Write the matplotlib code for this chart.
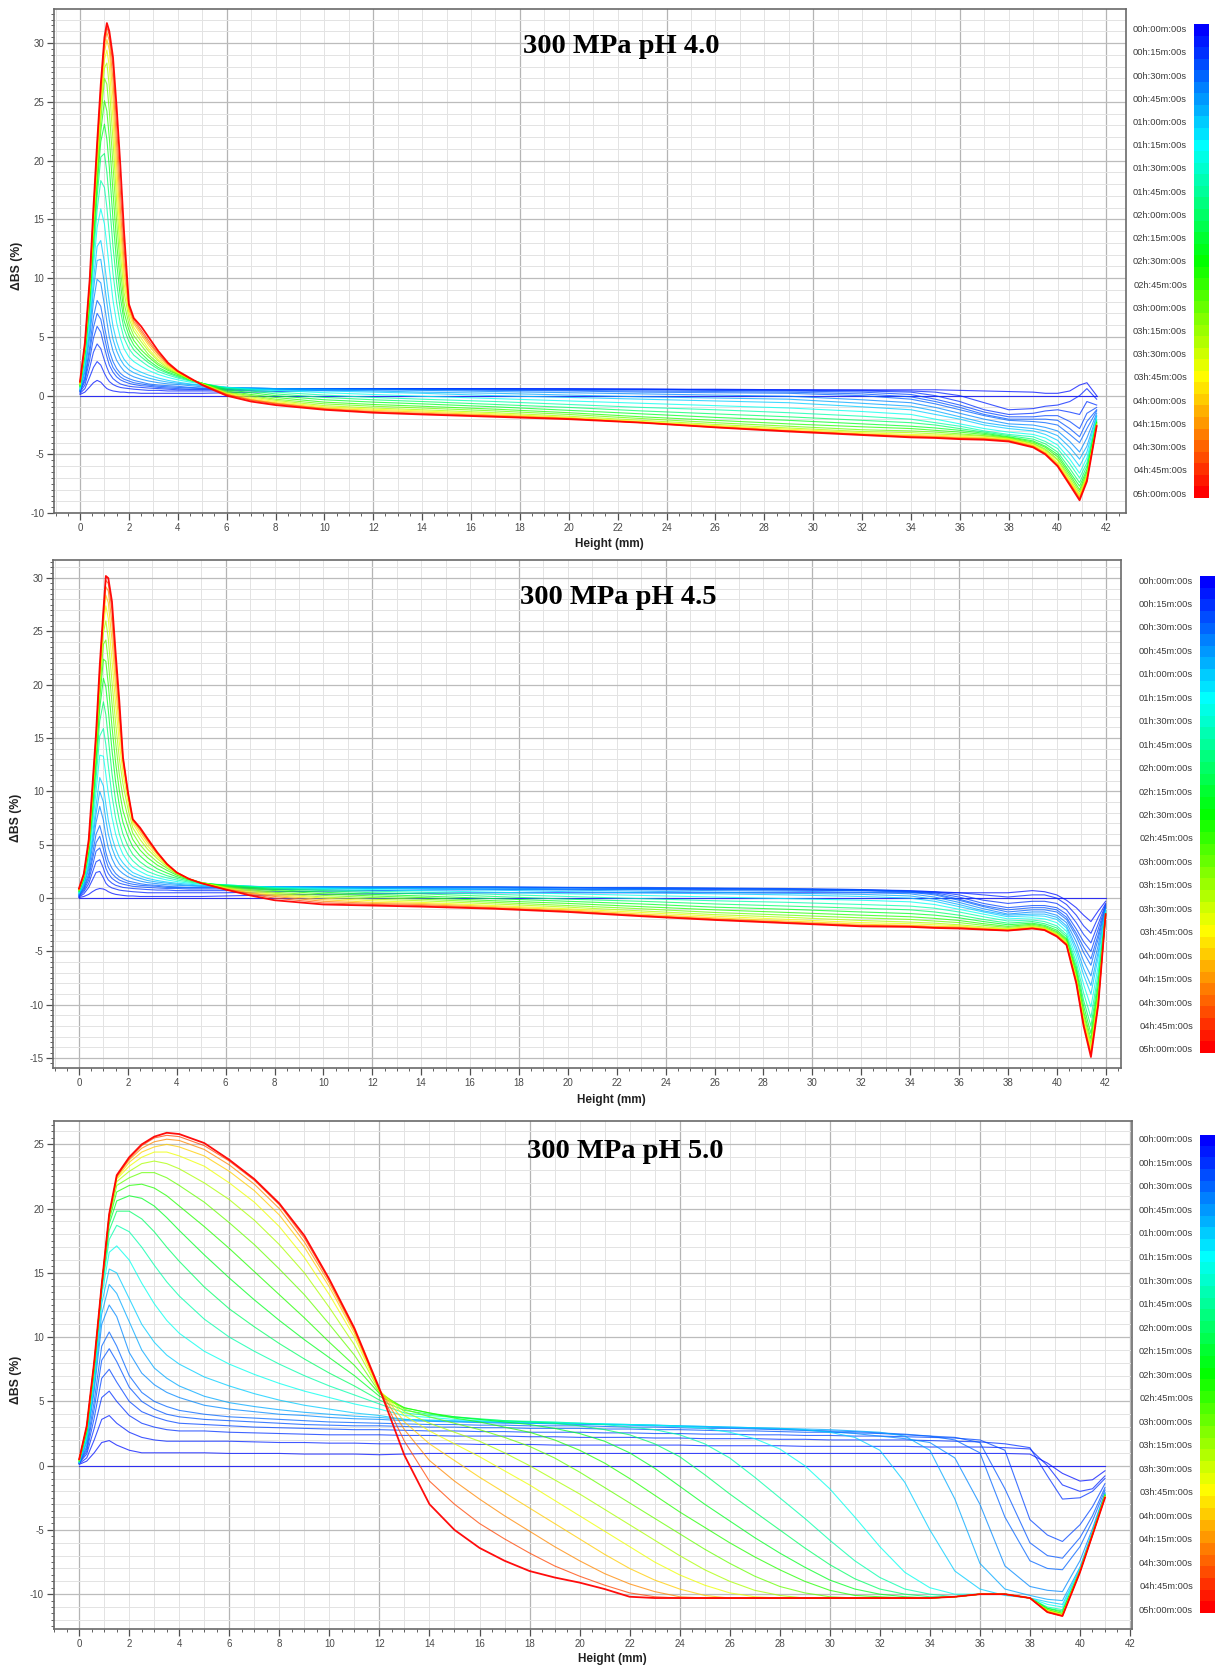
import matplotlib

matplotlib.use('Agg')

import matplotlib.pyplot as plt
import numpy as np
from matplotlib.colors import LinearSegmentedColormap
from matplotlib.ticker import MultipleLocator, FormatStrFormatter

plt.rcParams['font.family'] = ['Liberation Sans', 'DejaVu Sans']
plt.rcParams['axes.unicode_minus'] = False

# scan times (min) of the drawn profiles, same for all three samples
TIMES = [0, 5, 10, 15, 20, 25, 30, 40, 50, 60, 80, 100, 120, 140, 160, 180, 200, 220, 240, 260, 280, 300]

TIME_LABELS = ['00h:00m:00s', '00h:15m:00s', '00h:30m:00s', '00h:45m:00s', '01h:00m:00s',
               '01h:15m:00s', '01h:30m:00s', '01h:45m:00s', '02h:00m:00s', '02h:15m:00s',
               '02h:30m:00s', '02h:45m:00s', '03h:00m:00s', '03h:15m:00s', '03h:30m:00s',
               '03h:45m:00s', '04h:00m:00s', '04h:15m:00s', '04h:30m:00s', '04h:45m:00s',
               '05h:00m:00s']
LABEL_MINUTES = [0, 15, 30, 45, 60, 75, 90, 105, 120, 135, 150, 165, 180, 195, 210, 225, 240, 255, 270, 285, 300]

# ---- pH 4.0 : height (mm) and delta-BS (%) profiles ----
H_PH40 = [0, 0.2, 0.4, 0.55, 0.7, 0.85, 1.0, 1.1, 1.2, 1.35, 1.5, 1.65, 1.8, 2.0, 2.2, 2.5, 2.8, 3.2, 3.6,
          4.0, 4.5, 5.0, 6, 7, 8, 10, 12, 14, 17, 20, 23, 26, 29, 32, 34, 35, 36, 37, 38, 39, 39.5, 40,
          40.5, 40.9, 41.2, 41.6]
BS_PH40 = [
    [0, 0, 0, 0, 0, 0, 0, 0, 0, 0, 0, 0, 0, 0, 0, 0, 0, 0, 0, 0, 0, 0, 0, 0, 0, 0, 0, 0, 0, 0, 0, 0, 0,
     0, 0, 0, 0, 0, 0, 0, 0, 0, 0, 0, 0, 0],
    [0.1, 0.3, 0.75, 1.1, 1.3, 1.15, 0.8, 0.6, 0.5, 0.4, 0.35, 0.3, 0.3, 0.25, 0.25, 0.2, 0.2, 0.2, 0.2, 0.2,
     0.2, 0.2, 0.25, 0.3, 0.35, 0.45, 0.5, 0.55, 0.55, 0.55, 0.55, 0.5, 0.5, 0.5, 0.5, 0.5, 0.45, 0.4, 0.35,
     0.3, 0.2, 0.2, 0.4, 0.9, 1.1, 0.0],
    [0.2, 0.6, 1.6, 2.4, 2.9, 2.6, 1.9, 1.5, 1.2, 0.95, 0.8, 0.7, 0.65, 0.6, 0.55, 0.5, 0.45, 0.45, 0.4, 0.4,
     0.4, 0.4, 0.4, 0.45, 0.5, 0.55, 0.6, 0.6, 0.6, 0.6, 0.55, 0.55, 0.5, 0.45, 0.4, 0.3, 0.0, -0.6, -1.2,
     -1.1, -0.9, -0.8, -0.5, 0.0, 0.6, -0.3],
    [0.3, 0.9, 2.4, 3.7, 4.4, 4.0, 3.0, 2.4, 1.9, 1.45, 1.2, 1.0, 0.9, 0.8, 0.75, 0.7, 0.65, 0.6, 0.55, 0.5,
     0.5, 0.5, 0.5, 0.55, 0.6, 0.6, 0.6, 0.6, 0.6, 0.55, 0.55, 0.5, 0.45, 0.4, 0.3, 0.0, -0.5, -1.2, -1.6,
     -1.5, -1.3, -1.2, -1.4, -1.6, -0.5, -0.8],
    [0.35, 1.2, 3.1, 4.9, 5.9, 5.4, 4.1, 3.3, 2.6, 2.0, 1.6, 1.35, 1.2, 1.05, 0.95, 0.85, 0.8, 0.7, 0.65, 0.6,
     0.55, 0.55, 0.55, 0.6, 0.6, 0.6, 0.6, 0.6, 0.55, 0.55, 0.5, 0.45, 0.4, 0.3, 0.1, -0.3, -0.8, -1.4, -1.8,
     -1.8, -1.7, -1.7, -2.2, -2.8, -1.5, -1.0],
    [0.4, 1.4, 3.7, 5.8, 7.0, 6.5, 5.0, 4.0, 3.2, 2.4, 1.95, 1.6, 1.4, 1.25, 1.1, 1.0, 0.9, 0.8, 0.75, 0.7,
     0.65, 0.6, 0.6, 0.6, 0.6, 0.6, 0.6, 0.55, 0.5, 0.45, 0.4, 0.35, 0.3, 0.15, -0.1, -0.5, -1.0, -1.6, -2.0,
     -2.0, -2.0, -2.1, -2.8, -3.5, -2.2, -1.2],
    [0.4, 1.6, 4.2, 6.7, 8.1, 7.6, 5.9, 4.8, 3.8, 2.9, 2.3, 1.9, 1.65, 1.45, 1.3, 1.15, 1.0, 0.9, 0.85, 0.8,
     0.7, 0.65, 0.65, 0.65, 0.6, 0.6, 0.55, 0.5, 0.45, 0.4, 0.3, 0.25, 0.2, 0.0, -0.3, -0.7, -1.2, -1.7,
     -2.1, -2.2, -2.3, -2.5, -3.3, -4.0, -2.8, -1.3],
    [0.45, 2.0, 5.0, 8.0, 9.9, 9.6, 7.7, 6.3, 5.0, 3.8, 3.0, 2.5, 2.1, 1.8, 1.6, 1.4, 1.25, 1.1, 1.0, 0.95,
     0.85, 0.75, 0.7, 0.65, 0.6, 0.55, 0.5, 0.45, 0.35, 0.25, 0.15, 0.05, -0.05, -0.35, -0.6, -1.0, -1.5,
     -2.0, -2.4, -2.5, -2.7, -3.0, -3.9, -4.8, -3.6, -1.5],
    [0.5, 2.3, 5.6, 9.0, 11.5, 11.6, 9.5, 7.9, 6.4, 4.8, 3.8, 3.1, 2.6, 2.2, 1.95, 1.7, 1.5, 1.3, 1.15, 1.05,
     0.95, 0.85, 0.7, 0.65, 0.6, 0.5, 0.4, 0.3, 0.2, 0.05, -0.1, -0.2, -0.3, -0.65, -0.9, -1.3, -1.8, -2.3,
     -2.6, -2.8, -3.0, -3.4, -4.4, -5.4, -4.3, -1.7],
    [0.55, 2.6, 6.1, 9.8, 12.7, 13.2, 11.3, 9.6, 7.9, 5.9, 4.6, 3.7, 3.1, 2.6, 2.3, 2.0, 1.75, 1.5, 1.3,
     1.15, 1.0, 0.9, 0.7, 0.6, 0.5, 0.4, 0.3, 0.2, 0.0, -0.15, -0.3, -0.45, -0.6, -0.95, -1.2, -1.6, -2.0,
     -2.5, -2.8, -3.0, -3.3, -3.8, -4.9, -6.0, -4.8, -1.8],
    [0.6, 3.0, 6.8, 10.9, 14.3, 15.9, 14.6, 12.8, 10.8, 8.1, 6.2, 4.9, 4.0, 3.3, 2.9, 2.5, 2.15, 1.8, 1.55,
     1.35, 1.15, 1.0, 0.7, 0.55, 0.45, 0.25, 0.1, -0.05, -0.25, -0.45, -0.65, -0.85, -1.05, -1.35, -1.6,
     -2.0, -2.4, -2.8, -3.1, -3.3, -3.6, -4.2, -5.4, -6.6, -5.3, -2.0],
    [0.7, 3.3, 7.4, 11.8, 15.8, 18.3, 17.7, 16.0, 13.7, 10.4, 7.9, 6.1, 4.9, 4.0, 3.45, 2.95, 2.5, 2.05,
     1.75, 1.5, 1.25, 1.05, 0.65, 0.5, 0.3, 0.05, -0.15, -0.3, -0.5, -0.75, -1.0, -1.2, -1.45, -1.75, -2.0,
     -2.3, -2.6, -3.0, -3.3, -3.5, -3.9, -4.5, -5.8, -7.0, -5.7, -2.1],
    [0.75, 3.5, 7.8, 12.6, 16.9, 20.3, 20.6, 19.0, 16.6, 12.7, 9.6, 7.3, 5.7, 4.6, 3.9, 3.3, 2.8, 2.25, 1.9,
     1.6, 1.3, 1.05, 0.6, 0.4, 0.15, -0.15, -0.35, -0.5, -0.75, -1.0, -1.3, -1.55, -1.8, -2.1, -2.3, -2.5,
     -2.8, -3.1, -3.4, -3.7, -4.1, -4.8, -6.2, -7.4, -6.0, -2.2],
    [0.8, 3.7, 8.2, 13.3, 17.8, 21.6, 23.1, 21.8, 19.4, 15.0, 11.3, 8.4, 6.4, 5.1, 4.3, 3.6, 3.0, 2.4, 2.0,
     1.7, 1.35, 1.05, 0.5, 0.25, 0.0, -0.35, -0.55, -0.7, -0.95, -1.25, -1.55, -1.85, -2.1, -2.4, -2.6,
     -2.75, -2.95, -3.2, -3.5, -3.85, -4.3, -5.0, -6.5, -7.7, -6.3, -2.3],
    [0.85, 3.8, 8.5, 13.8, 18.5, 22.5, 25.1, 24.2, 21.9, 17.3, 13.0, 9.6, 7.1, 5.6, 4.7, 3.9, 3.3, 2.6, 2.15,
     1.8, 1.4, 1.05, 0.4, 0.1, -0.15, -0.55, -0.75, -0.9, -1.15, -1.45, -1.8, -2.1, -2.4, -2.65, -2.8,
     -2.95, -3.1, -3.3, -3.55, -3.95, -4.4, -5.2, -6.7, -8.0, -6.5, -2.3],
    [0.9, 3.9, 8.8, 14.2, 19.1, 23.4, 27.0, 26.5, 24.2, 19.6, 14.8, 10.8, 7.9, 6.1, 5.1, 4.3, 3.5, 2.75,
     2.25, 1.85, 1.4, 1.05, 0.3, 0.0, -0.3, -0.7, -0.9, -1.05, -1.3, -1.6, -1.95, -2.3, -2.6, -2.9, -3.0,
     -3.1, -3.25, -3.4, -3.6, -4.05, -4.55, -5.4, -6.9, -8.2, -6.7, -2.4],
    [0.95, 4.0, 9.0, 14.5, 19.6, 24.2, 27.9, 28.3, 26.3, 21.7, 16.5, 12.1, 8.8, 6.6, 5.5, 4.6, 3.8, 2.95,
     2.35, 1.9, 1.4, 1.0, 0.25, -0.1, -0.4, -0.85, -1.05, -1.2, -1.45, -1.75, -2.1, -2.45, -2.75, -3.05,
     -3.15, -3.25, -3.35, -3.45, -3.65, -4.1, -4.65, -5.5, -7.1, -8.4, -6.8, -2.4],
    [1.0, 4.1, 9.2, 14.8, 20.0, 24.8, 28.6, 29.4, 28.0, 23.5, 18.0, 13.3, 9.6, 7.0, 5.8, 4.9, 4.0, 3.1,
     2.45, 1.95, 1.4, 1.0, 0.2, -0.2, -0.5, -0.95, -1.15, -1.3, -1.55, -1.85, -2.2, -2.55, -2.85, -3.15,
     -3.3, -3.35, -3.45, -3.55, -3.7, -4.2, -4.75, -5.7, -7.2, -8.5, -6.9, -2.5],
    [1.05, 4.2, 9.4, 15.1, 20.4, 25.3, 29.2, 30.3, 29.4, 25.3, 19.6, 14.5, 10.5, 7.3, 6.1, 5.2, 4.3, 3.3,
     2.55, 2.0, 1.4, 0.95, 0.15, -0.3, -0.6, -1.05, -1.25, -1.4, -1.65, -1.9, -2.25, -2.6, -2.95, -3.25,
     -3.4, -3.45, -3.55, -3.6, -3.75, -4.25, -4.85, -5.8, -7.35, -8.6, -7.0, -2.5],
    [1.1, 4.3, 9.6, 15.4, 20.8, 25.8, 29.8, 30.9, 30.2, 26.8, 21.3, 15.9, 11.5, 7.5, 6.3, 5.4, 4.5, 3.5,
     2.65, 2.05, 1.45, 0.95, 0.1, -0.35, -0.65, -1.1, -1.35, -1.5, -1.7, -1.95, -2.3, -2.65, -3.0, -3.3,
     -3.45, -3.5, -3.6, -3.65, -3.8, -4.3, -4.9, -5.9, -7.45, -8.7, -7.1, -2.5],
    [1.15, 4.4, 9.8, 15.7, 21.2, 26.2, 30.2, 31.3, 30.7, 28.0, 22.9, 17.5, 12.6, 7.7, 6.5, 5.6, 4.7, 3.6,
     2.7, 2.05, 1.45, 0.95, 0.1, -0.4, -0.7, -1.15, -1.4, -1.55, -1.75, -1.95, -2.3, -2.7, -3.0, -3.3,
     -3.5, -3.55, -3.65, -3.7, -3.85, -4.35, -4.95, -5.95, -7.5, -8.8, -7.2, -2.55],
    [1.2, 4.5, 10.0, 16.0, 21.5, 26.5, 30.5, 31.7, 31.0, 28.8, 24.5, 19.6, 14.0, 7.8, 6.6, 5.9, 5.0, 3.8,
     2.8, 2.1, 1.5, 0.9, 0.0, -0.5, -0.8, -1.2, -1.45, -1.6, -1.8, -2.0, -2.3, -2.7, -3.05, -3.35, -3.55,
     -3.6, -3.7, -3.75, -3.9, -4.4, -5.0, -6.0, -7.6, -8.9, -7.3, -2.6],
]

# ---- pH 4.5 ----
H_PH45 = [0, 0.2, 0.4, 0.55, 0.7, 0.85, 1.0, 1.1, 1.2, 1.35, 1.5, 1.65, 1.8, 2.0, 2.2, 2.5, 2.8, 3.2, 3.6,
          4.0, 4.5, 5.0, 6, 7, 8, 10, 12, 14, 17, 20, 23, 26, 29, 32, 34, 35, 36, 37, 38, 39, 39.5, 40,
          40.4, 40.8, 41.1, 41.4, 41.7, 42.0]
BS_PH45 = [
    [0, 0, 0, 0, 0, 0, 0, 0, 0, 0, 0, 0, 0, 0, 0, 0, 0, 0, 0, 0, 0, 0, 0, 0, 0, 0, 0, 0, 0, 0, 0, 0, 0,
     0, 0, 0, 0, 0, 0, 0, 0, 0, 0, 0, 0, 0, 0, 0],
    [0.05, 0.15, 0.35, 0.6, 0.8, 0.9, 0.85, 0.75, 0.6, 0.45, 0.35, 0.3, 0.25, 0.2, 0.2, 0.15, 0.15, 0.15,
     0.15, 0.15, 0.15, 0.15, 0.2, 0.25, 0.3, 0.35, 0.4, 0.45, 0.5, 0.5, 0.5, 0.5, 0.5, 0.5, 0.5, 0.5, 0.5,
     0.5, 0.5, 0.7, 0.6, 0.3, -0.2, -0.9, -1.6, -2.2, -1.2, -0.3],
    [0.1, 0.4, 1.0, 1.7, 2.4, 2.5, 1.9, 1.4, 1.15, 0.95, 0.85, 0.75, 0.7, 0.65, 0.6, 0.55, 0.5, 0.5, 0.5,
     0.5, 0.5, 0.5, 0.5, 0.55, 0.6, 0.65, 0.7, 0.75, 0.8, 0.8, 0.8, 0.8, 0.75, 0.7, 0.65, 0.6, 0.5, 0.3,
     0.1, 0.3, 0.3, 0.0, -0.6, -1.6, -2.6, -3.3, -1.8, -0.5],
    [0.15, 0.6, 1.35, 2.4, 3.4, 3.6, 2.8, 2.1, 1.7, 1.4, 1.2, 1.1, 1.0, 0.95, 0.9, 0.85, 0.8, 0.75, 0.75,
     0.7, 0.7, 0.7, 0.7, 0.75, 0.8, 0.85, 0.9, 0.95, 0.95, 0.95, 0.9, 0.9, 0.85, 0.8, 0.7, 0.6, 0.3, -0.2,
     -0.5, -0.3, -0.3, -0.5, -1.1, -2.3, -3.4, -4.2, -2.4, -0.6],
    [0.2, 0.75, 1.7, 3.0, 4.4, 4.7, 3.7, 2.8, 2.3, 1.85, 1.6, 1.4, 1.3, 1.2, 1.1, 1.05, 1.0, 0.95, 0.9, 0.9,
     0.85, 0.85, 0.85, 0.9, 0.95, 1.0, 1.0, 1.05, 1.05, 1.0, 1.0, 0.95, 0.9, 0.8, 0.65, 0.5, 0.1, -0.5,
     -0.9, -0.7, -0.7, -0.9, -1.5, -2.9, -4.1, -5.0, -2.9, -0.7],
    [0.25, 0.9, 2.0, 3.6, 5.2, 5.8, 4.6, 3.6, 2.9, 2.3, 1.95, 1.7, 1.55, 1.4, 1.3, 1.2, 1.15, 1.1, 1.0, 1.0,
     0.95, 0.95, 0.95, 1.0, 1.0, 1.05, 1.05, 1.05, 1.05, 1.0, 0.95, 0.9, 0.85, 0.75, 0.6, 0.4, -0.1, -0.7,
     -1.1, -0.9, -0.9, -1.1, -1.8, -3.3, -4.6, -5.7, -3.4, -0.8],
    [0.3, 1.0, 2.3, 4.1, 6.0, 6.8, 5.5, 4.3, 3.5, 2.8, 2.3, 2.0, 1.8, 1.6, 1.5, 1.35, 1.25, 1.2, 1.1, 1.05,
     1.0, 1.0, 1.0, 1.05, 1.05, 1.05, 1.05, 1.05, 1.0, 0.95, 0.9, 0.85, 0.8, 0.7, 0.55, 0.3, -0.2, -0.8,
     -1.3, -1.1, -1.1, -1.3, -2.0, -3.6, -5.1, -6.3, -3.8, -0.9],
    [0.35, 1.2, 2.7, 4.8, 7.1, 8.6, 7.3, 5.8, 4.7, 3.7, 3.0, 2.6, 2.3, 2.0, 1.8, 1.6, 1.45, 1.35, 1.25, 1.2,
     1.15, 1.1, 1.1, 1.1, 1.05, 1.05, 1.0, 1.0, 0.95, 0.85, 0.8, 0.7, 0.65, 0.55, 0.4, 0.1, -0.4, -1.0,
     -1.5, -1.3, -1.3, -1.6, -2.3, -4.1, -5.9, -7.3, -4.4, -1.0],
    [0.4, 1.3, 3.0, 5.3, 7.9, 10.0, 9.0, 7.3, 6.0, 4.7, 3.8, 3.2, 2.8, 2.4, 2.1, 1.85, 1.65, 1.5, 1.4, 1.3,
     1.2, 1.15, 1.15, 1.1, 1.05, 1.0, 0.95, 0.9, 0.85, 0.75, 0.65, 0.55, 0.45, 0.35, 0.2, -0.1, -0.6, -1.2,
     -1.6, -1.5, -1.5, -1.8, -2.6, -4.6, -6.6, -8.2, -5.0, -1.1],
    [0.45, 1.4, 3.3, 5.8, 8.7, 11.3, 10.5, 8.8, 7.3, 5.7, 4.6, 3.8, 3.3, 2.8, 2.4, 2.1, 1.85, 1.65, 1.5,
     1.4, 1.3, 1.2, 1.2, 1.1, 1.05, 0.95, 0.9, 0.85, 0.75, 0.6, 0.5, 0.4, 0.3, 0.15, 0.0, -0.3, -0.8, -1.3,
     -1.75, -1.65, -1.7, -2.0, -2.8, -5.0, -7.2, -9.0, -5.5, -1.2],
    [0.5, 1.6, 3.7, 6.6, 10.0, 13.4, 13.3, 11.6, 9.8, 7.6, 6.0, 4.9, 4.1, 3.4, 2.9, 2.5, 2.15, 1.9, 1.7,
     1.55, 1.4, 1.3, 1.25, 1.1, 1.0, 0.9, 0.8, 0.7, 0.55, 0.4, 0.25, 0.1, -0.05, -0.2, -0.35, -0.6, -1.05,
     -1.5, -1.95, -1.85, -1.95, -2.3, -3.1, -5.5, -8.1, -10.2, -6.3, -1.3],
    [0.55, 1.7, 4.0, 7.3, 11.2, 15.2, 15.9, 14.4, 12.4, 9.6, 7.5, 6.0, 5.0, 4.1, 3.5, 2.9, 2.5, 2.15, 1.9,
     1.7, 1.5, 1.35, 1.25, 1.1, 0.95, 0.8, 0.65, 0.55, 0.35, 0.15, -0.05, -0.25, -0.4, -0.6, -0.75, -0.95,
     -1.3, -1.75, -2.15, -2.05, -2.2, -2.6, -3.4, -6.0, -8.9, -11.2, -7.0, -1.4],
    [0.6, 1.8, 4.3, 7.9, 12.2, 16.6, 18.4, 17.2, 15.0, 11.7, 9.1, 7.3, 6.0, 4.9, 4.1, 3.4, 2.9, 2.45, 2.1,
     1.85, 1.6, 1.4, 1.2, 1.05, 0.9, 0.7, 0.5, 0.4, 0.15, -0.1, -0.3, -0.55, -0.75, -0.95, -1.1, -1.3, -1.6,
     -2.0, -2.35, -2.2, -2.4, -2.8, -3.6, -6.4, -9.6, -12.0, -7.6, -1.5],
    [0.65, 1.9, 4.5, 8.4, 13.0, 17.8, 20.6, 19.8, 17.6, 13.9, 10.9, 8.7, 7.1, 5.8, 4.8, 3.95, 3.35, 2.75,
     2.35, 2.0, 1.7, 1.45, 1.15, 1.0, 0.8, 0.55, 0.35, 0.2, -0.05, -0.3, -0.55, -0.85, -1.05, -1.3, -1.45,
     -1.6, -1.85, -2.2, -2.5, -2.35, -2.55, -3.0, -3.8, -6.7, -10.1, -12.7, -8.1, -1.5],
    [0.7, 1.95, 4.7, 8.8, 13.6, 18.7, 22.4, 22.2, 20.0, 16.1, 12.7, 10.1, 8.2, 6.7, 5.5, 4.5, 3.8, 3.1, 2.6,
     2.15, 1.75, 1.45, 1.1, 0.9, 0.7, 0.4, 0.2, 0.05, -0.25, -0.5, -0.8, -1.1, -1.35, -1.6, -1.75, -1.9,
     -2.1, -2.4, -2.65, -2.45, -2.65, -3.15, -3.9, -7.0, -10.6, -13.2, -8.5, -1.6],
    [0.75, 2.0, 4.8, 9.1, 14.0, 19.4, 23.8, 24.2, 22.2, 18.3, 14.6, 11.6, 9.5, 7.6, 6.1, 5.0, 4.2, 3.4, 2.8,
     2.25, 1.8, 1.45, 1.05, 0.8, 0.55, 0.25, 0.05, -0.1, -0.4, -0.7, -1.0, -1.35, -1.6, -1.85, -2.0, -2.15,
     -2.3, -2.55, -2.75, -2.55, -2.75, -3.25, -4.0, -7.2, -10.9, -13.6, -8.8, -1.6],
    [0.75, 2.05, 4.9, 9.4, 14.3, 20.0, 24.9, 26.0, 24.3, 20.3, 16.4, 13.1, 10.7, 8.4, 6.6, 5.5, 4.6, 3.7,
     2.95, 2.3, 1.8, 1.45, 1.0, 0.7, 0.45, 0.1, -0.1, -0.25, -0.55, -0.85, -1.2, -1.55, -1.8, -2.1, -2.25,
     -2.35, -2.5, -2.7, -2.85, -2.65, -2.8, -3.35, -4.1, -7.4, -11.2, -13.9, -9.1, -1.6],
    [0.8, 2.1, 5.0, 9.6, 14.6, 20.5, 25.5, 27.4, 26.2, 22.3, 18.2, 14.6, 11.7, 9.1, 7.0, 5.9, 4.9, 3.9,
     3.05, 2.35, 1.8, 1.45, 0.95, 0.6, 0.35, 0.0, -0.25, -0.4, -0.7, -1.0, -1.35, -1.7, -2.0, -2.3, -2.4,
     -2.5, -2.6, -2.8, -2.9, -2.7, -2.85, -3.4, -4.2, -7.6, -11.4, -14.2, -9.4, -1.6],
    [0.8, 2.15, 5.1, 9.8, 14.8, 20.8, 26.0, 28.4, 27.7, 24.2, 19.8, 15.9, 12.5, 9.6, 7.2, 6.2, 5.2, 4.1,
     3.1, 2.35, 1.8, 1.4, 0.9, 0.5, 0.25, -0.15, -0.4, -0.5, -0.8, -1.1, -1.5, -1.85, -2.15, -2.45, -2.55,
     -2.65, -2.7, -2.85, -2.95, -2.75, -2.9, -3.45, -4.25, -7.7, -11.6, -14.4, -9.6, -1.6],
    [0.85, 2.2, 5.2, 10.0, 15.0, 21.1, 26.4, 29.2, 28.8, 25.8, 21.2, 17.0, 13.0, 9.8, 7.3, 6.4, 5.4, 4.2,
     3.15, 2.4, 1.8, 1.4, 0.85, 0.45, 0.15, -0.3, -0.5, -0.6, -0.9, -1.2, -1.6, -1.95, -2.25, -2.55, -2.6,
     -2.7, -2.75, -2.9, -3.0, -2.8, -2.95, -3.5, -4.3, -7.8, -11.8, -14.6, -9.8, -1.6],
    [0.85, 2.2, 5.3, 10.2, 15.2, 21.4, 26.7, 29.8, 29.5, 27.0, 22.3, 17.9, 13.2, 9.9, 7.4, 6.5, 5.5, 4.25,
     3.2, 2.4, 1.8, 1.4, 0.8, 0.35, 0.0, -0.45, -0.6, -0.7, -0.95, -1.25, -1.65, -2.0, -2.3, -2.6, -2.65,
     -2.75, -2.8, -2.95, -3.05, -2.85, -3.0, -3.55, -4.35, -7.9, -11.9, -14.7, -9.9, -1.6],
    [0.9, 2.3, 5.5, 10.5, 15.5, 21.8, 27.0, 30.2, 30.0, 27.8, 23.0, 18.5, 13.2, 10.0, 7.4, 6.6, 5.6, 4.3,
     3.2, 2.4, 1.8, 1.4, 0.8, 0.25, -0.2, -0.6, -0.7, -0.8, -1.0, -1.3, -1.7, -2.05, -2.35, -2.65, -2.7,
     -2.8, -2.85, -2.95, -3.05, -2.85, -3.0, -3.6, -4.4, -8.0, -12.0, -14.9, -10.0, -1.5],
]

# ---- pH 5.0 ----
H_PH50 = [0, 0.3, 0.6, 0.9, 1.2, 1.5, 2, 2.5, 3, 3.5, 4, 5, 6, 7, 8, 9, 10, 11, 12, 13, 14, 15, 16, 17,
          18, 19, 20, 21, 22, 23, 24, 25, 26, 27, 28, 29, 30, 31, 32, 33, 34, 35, 36, 37, 38, 38.7, 39.3,
          40, 40.5, 41]
BS_PH50 = [
    [0, 0, 0, 0, 0, 0, 0, 0, 0, 0, 0, 0, 0, 0, 0, 0, 0, 0, 0, 0, 0, 0, 0, 0, 0, 0, 0, 0, 0, 0, 0, 0, 0,
     0, 0, 0, 0, 0, 0, 0, 0, 0, 0, 0, 0, 0, 0, 0, 0, 0],
    [0.1, 0.35, 1.0, 1.8, 1.95, 1.6, 1.2, 1.0, 1.0, 1.0, 1.0, 1.0, 0.95, 0.95, 0.95, 0.9, 0.9, 0.9, 0.85,
     0.9, 0.95, 0.95, 0.95, 0.95, 0.95, 0.95, 0.95, 0.95, 0.95, 0.95, 0.95, 0.95, 0.95, 0.95, 0.95, 0.95,
     0.95, 0.95, 0.95, 0.95, 0.95, 0.95, 0.95, 0.95, 0.9, 0.2, -0.6, -1.2, -1.1, -0.4],
    [0.15, 0.6, 2.0, 3.6, 3.9, 3.3, 2.6, 2.2, 2.0, 1.9, 1.9, 1.9, 1.9, 1.85, 1.8, 1.8, 1.75, 1.75, 1.7,
     1.7, 1.7, 1.7, 1.65, 1.65, 1.65, 1.6, 1.6, 1.6, 1.6, 1.6, 1.6, 1.55, 1.55, 1.55, 1.55, 1.5, 1.5, 1.5,
     1.5, 1.5, 1.45, 1.45, 1.45, 1.4, 1.3, 0.0, -1.5, -2.0, -1.8, -0.8],
    [0.2, 0.9, 2.9, 5.3, 5.8, 5.0, 3.9, 3.3, 3.0, 2.8, 2.7, 2.7, 2.6, 2.55, 2.5, 2.45, 2.4, 2.4, 2.4, 2.35,
     2.35, 2.3, 2.3, 2.3, 2.25, 2.25, 2.2, 2.2, 2.2, 2.15, 2.15, 2.1, 2.1, 2.1, 2.05, 2.05, 2.0, 2.0, 2.0,
     2.0, 1.95, 1.9, 1.85, 1.7, 1.4, -0.8, -2.6, -2.5, -2.0, -1.0],
    [0.2, 1.1, 3.7, 6.8, 7.5, 6.5, 5.0, 4.2, 3.8, 3.5, 3.3, 3.2, 3.1, 3.0, 2.95, 2.9, 2.85, 2.8, 2.8, 2.75,
     2.7, 2.7, 2.65, 2.65, 2.6, 2.6, 2.6, 2.55, 2.55, 2.5, 2.5, 2.45, 2.45, 2.4, 2.4, 2.35, 2.35, 2.3, 2.3,
     2.25, 2.2, 2.15, 2.0, 1.2, -4.2, -5.4, -5.9, -4.6, -3.2, -1.4],
    [0.2, 1.3, 4.4, 8.2, 9.1, 8.1, 6.1, 5.0, 4.4, 4.0, 3.8, 3.6, 3.5, 3.4, 3.3, 3.2, 3.15, 3.1, 3.1, 3.05,
     3.0, 3.0, 2.95, 2.95, 2.9, 2.9, 2.9, 2.85, 2.85, 2.8, 2.8, 2.75, 2.7, 2.7, 2.65, 2.6, 2.6, 2.55, 2.5,
     2.4, 2.3, 2.2, 1.8, -1.8, -6.0, -7.0, -7.2, -5.6, -3.9, -1.7],
    [0.2, 1.5, 5.0, 9.3, 10.4, 9.3, 7.0, 5.7, 5.0, 4.6, 4.3, 4.0, 3.8, 3.7, 3.6, 3.5, 3.4, 3.35, 3.3, 3.25,
     3.2, 3.2, 3.15, 3.15, 3.1, 3.1, 3.1, 3.05, 3.0, 3.0, 2.95, 2.9, 2.9, 2.85, 2.8, 2.75, 2.7, 2.65, 2.55,
     2.45, 2.3, 2.0, 1.0, -4.0, -7.4, -8.0, -8.1, -6.3, -4.3, -1.9],
    [0.2, 1.8, 5.8, 11.0, 12.5, 11.6, 8.8, 7.2, 6.3, 5.7, 5.3, 4.7, 4.4, 4.2, 4.0, 3.9, 3.75, 3.65, 3.6,
     3.5, 3.45, 3.4, 3.35, 3.3, 3.3, 3.25, 3.2, 3.2, 3.15, 3.1, 3.05, 3.0, 2.95, 2.9, 2.85, 2.75, 2.65,
     2.5, 2.3, 2.1, 1.8, 0.6, -3.0, -7.8, -9.4, -9.7, -9.8, -7.4, -4.9, -2.1],
    [0.2, 2.0, 6.2, 11.8, 14.1, 13.4, 11.2, 9.0, 7.6, 6.8, 6.2, 5.4, 4.9, 4.6, 4.35, 4.15, 4.0, 3.85, 3.75,
     3.6, 3.5, 3.45, 3.4, 3.35, 3.3, 3.3, 3.25, 3.2, 3.2, 3.15, 3.1, 3.05, 3.0, 2.95, 2.9, 2.85, 2.8, 2.7,
     2.6, 2.3, 1.2, -2.6, -7.6, -9.6, -10.1, -10.4, -10.5, -7.9, -5.1, -2.2],
    [0.25, 2.1, 6.6, 12.6, 15.3, 15.0, 13.0, 11.0, 9.6, 8.6, 7.9, 6.9, 6.2, 5.6, 5.1, 4.7, 4.4, 4.1, 3.9,
     3.6, 3.55, 3.5, 3.45, 3.4, 3.35, 3.3, 3.3, 3.25, 3.2, 3.15, 3.1, 3.05, 3.0, 2.95, 2.9, 2.8, 2.6, 2.2,
     1.2, -1.3, -5.0, -8.2, -9.6, -10.1, -10.3, -10.6, -10.8, -8.0, -5.2, -2.2],
    [0.3, 2.3, 7.0, 13.2, 16.6, 17.1, 16.0, 14.2, 12.6, 11.3, 10.3, 8.9, 7.9, 7.1, 6.4, 5.8, 5.3, 4.8, 4.4,
     3.9, 3.75, 3.6, 3.5, 3.45, 3.4, 3.35, 3.3, 3.25, 3.2, 3.15, 3.05, 2.9, 2.6, 2.1, 1.3, 0.0, -1.8, -4.0,
     -6.3, -8.3, -9.5, -10.0, -10.0, -10.0, -10.3, -10.8, -11.0, -8.1, -5.2, -2.3],
    [0.3, 2.5, 7.3, 13.6, 17.6, 18.7, 18.2, 17.0, 15.6, 14.3, 13.2, 11.4, 10.0, 8.9, 7.9, 7.0, 6.2, 5.5,
     4.8, 4.1, 3.9, 3.75, 3.6, 3.5, 3.45, 3.4, 3.3, 3.2, 3.0, 2.8, 2.4, 1.7, 0.6, -0.9, -2.5, -4.1, -5.8,
     -7.4, -8.7, -9.6, -10.0, -10.2, -10.0, -10.0, -10.3, -11.0, -11.2, -8.2, -5.3, -2.3],
    [0.35, 2.6, 7.5, 13.8, 18.3, 19.8, 19.8, 19.2, 18.2, 17.0, 15.9, 13.9, 12.2, 10.8, 9.5, 8.3, 7.2, 6.2,
     5.1, 4.3, 4.0, 3.8, 3.65, 3.5, 3.4, 3.3, 3.1, 2.8, 2.4, 1.7, 0.7, -0.7, -2.2, -3.6, -5.0, -6.4, -7.7,
     -8.8, -9.6, -10.0, -10.2, -10.2, -10.0, -10.0, -10.3, -11.1, -11.3, -8.2, -5.3, -2.3],
    [0.35, 2.7, 7.6, 13.9, 18.8, 20.6, 21.0, 20.8, 20.2, 19.3, 18.3, 16.4, 14.6, 12.9, 11.3, 9.8, 8.4, 7.0,
     5.4, 4.5, 4.1, 3.8, 3.6, 3.4, 3.2, 2.9, 2.5, 1.9, 1.0, -0.2, -1.6, -3.0, -4.3, -5.6, -6.8, -7.9, -8.9,
     -9.6, -10.0, -10.2, -10.3, -10.2, -10.0, -10.0, -10.3, -11.1, -11.4, -8.2, -5.3, -2.3],
    [0.4, 2.8, 7.7, 13.9, 19.1, 21.3, 21.8, 21.9, 21.6, 21.0, 20.2, 18.6, 16.9, 15.1, 13.3, 11.5, 9.6, 7.8,
     5.6, 4.5, 4.1, 3.7, 3.4, 3.0, 2.6, 2.0, 1.2, 0.2, -1.0, -2.3, -3.6, -4.8, -6.0, -7.1, -8.1, -9.0,
     -9.7, -10.1, -10.2, -10.3, -10.3, -10.2, -10.0, -10.0, -10.3, -11.2, -11.5, -8.2, -5.3, -2.3],
    [0.4, 2.9, 7.8, 13.9, 19.3, 21.8, 22.4, 22.8, 22.8, 22.4, 21.8, 20.5, 18.9, 17.2, 15.3, 13.3, 11.0, 8.6,
     5.7, 4.4, 3.8, 3.3, 2.8, 2.2, 1.5, 0.6, -0.5, -1.7, -2.9, -4.1, -5.3, -6.5, -7.6, -8.6, -9.4, -9.9,
     -10.2, -10.3, -10.3, -10.3, -10.3, -10.2, -10.0, -10.0, -10.3, -11.2, -11.5, -8.2, -5.3, -2.3],
    [0.45, 2.9, 7.9, 14.0, 19.4, 22.1, 22.9, 23.5, 23.7, 23.5, 23.1, 22.0, 20.7, 19.1, 17.2, 15.0, 12.3,
     9.4, 5.8, 4.2, 3.3, 2.6, 1.9, 1.0, 0.0, -1.1, -2.2, -3.4, -4.6, -5.8, -7.0, -8.1, -9.0, -9.7, -10.1,
     -10.3, -10.3, -10.3, -10.3, -10.3, -10.3, -10.2, -10.0, -10.0, -10.3, -11.3, -11.6, -8.2, -5.3, -2.4],
    [0.45, 3.0, 7.9, 14.0, 19.5, 22.3, 23.3, 24.0, 24.4, 24.4, 24.1, 23.3, 22.0, 20.5, 18.6, 16.2, 13.3,
     10.0, 5.8, 3.9, 2.7, 1.7, 0.7, -0.4, -1.5, -2.7, -3.9, -5.1, -6.3, -7.5, -8.5, -9.3, -9.9, -10.2,
     -10.3, -10.3, -10.3, -10.3, -10.3, -10.3, -10.3, -10.2, -10.0, -10.0, -10.3, -11.3, -11.6, -8.2,
     -5.3, -2.4],
    [0.5, 3.0, 8.0, 14.0, 19.5, 22.4, 23.6, 24.4, 24.8, 25.0, 24.8, 24.1, 22.9, 21.4, 19.5, 17.0, 13.9,
     10.3, 5.9, 3.4, 1.7, 0.4, -0.9, -2.1, -3.3, -4.5, -5.7, -6.9, -8.0, -8.9, -9.6, -10.1, -10.3, -10.3,
     -10.3, -10.3, -10.3, -10.3, -10.3, -10.3, -10.3, -10.2, -10.0, -10.0, -10.3, -11.3, -11.6, -8.2,
     -5.4, -2.4],
    [0.5, 3.0, 8.0, 14.0, 19.5, 22.5, 23.8, 24.7, 25.2, 25.4, 25.3, 24.6, 23.4, 21.9, 20.0, 17.4, 14.2,
     10.5, 5.9, 2.8, 0.4, -1.2, -2.6, -3.9, -5.1, -6.3, -7.4, -8.4, -9.2, -9.8, -10.2, -10.3, -10.3, -10.3,
     -10.3, -10.3, -10.3, -10.3, -10.3, -10.3, -10.3, -10.2, -10.0, -10.0, -10.3, -11.4, -11.7, -8.2,
     -5.4, -2.4],
    [0.5, 3.0, 8.0, 14.0, 19.5, 22.5, 23.9, 24.9, 25.5, 25.7, 25.6, 24.9, 23.7, 22.2, 20.3, 17.7, 14.4,
     10.6, 5.9, 1.9, -1.2, -3.0, -4.5, -5.7, -6.8, -7.8, -8.6, -9.3, -9.9, -10.2, -10.3, -10.3, -10.3,
     -10.3, -10.3, -10.3, -10.3, -10.3, -10.3, -10.3, -10.3, -10.2, -10.0, -10.0, -10.3, -11.4, -11.7,
     -8.3, -5.4, -2.5],
    [0.5, 3.1, 8.1, 14.1, 19.6, 22.6, 24.0, 25.0, 25.6, 25.9, 25.8, 25.1, 23.8, 22.3, 20.4, 17.9, 14.5,
     10.7, 6.0, 0.8, -3.0, -5.0, -6.4, -7.4, -8.2, -8.7, -9.1, -9.6, -10.2, -10.3, -10.3, -10.3, -10.3,
     -10.3, -10.3, -10.3, -10.3, -10.3, -10.3, -10.3, -10.3, -10.2, -10.0, -10.0, -10.3, -11.4, -11.7,
     -8.3, -5.4, -2.5],
]

for _h, _rows in ((H_PH40, BS_PH40), (H_PH45, BS_PH45), (H_PH50, BS_PH50)):
    assert len(_rows) == len(TIMES)
    for _r in _rows:
        assert len(_r) == len(_h), (len(_r), len(_h))

W, H = 1215, 1669
fig = plt.figure(figsize=(W / 100, H / 100), dpi=100)
fig.patch.set_facecolor('white')

# scan time colour scale: blue -> cyan -> green -> yellow -> red
cmap = LinearSegmentedColormap.from_list('scan_time', ['#0000ff', '#00ffff', '#00ff00', '#ffff00', '#ff0000'])


def px_box(left, top, right, bottom):
    return [left / W, 1 - bottom / H, (right - left) / W, (bottom - top) / H]


panels = [
    dict(title='300 MPa pH 4.0', h=H_PH40, bs=BS_PH40,
         box=(54, 8.6, 1126, 513.2), xlim=(-1.064, 42.8), ylim=(-10, 32.93),
         cbar=(1194, 24, 1209, 498), cb_lim=(303.2, -3.0),
         title_xy=(621, 53), ylab_xy=(17, 266), xlab_xy=(609, 544)),
    dict(title='300 MPa pH 4.5', h=H_PH45, bs=BS_PH45,
         box=(53.3, 560, 1121, 1068.2), xlim=(-1.05, 42.63), ylim=(-15.95, 31.7),
         cbar=(1200, 576, 1215, 1053), cb_lim=(302.6, -2.6),
         title_xy=(618, 604), ylab_xy=(16, 818), xlab_xy=(611, 1100)),
    dict(title='300 MPa pH 5.0', h=H_PH50, bs=BS_PH50,
         box=(53.6, 1120.7, 1131.5, 1629), xlim=(-1.023, 42.06), ylim=(-12.71, 26.84),
         cbar=(1200, 1135, 1215, 1613.4), cb_lim=(302.8, -2.55),
         title_xy=(625, 1158), ylab_xy=(16, 1380), xlab_xy=(612, 1659)),
]

for p in panels:
    ax = fig.add_axes(px_box(*p['box']))
    ax.set_xlim(*p['xlim'])
    ax.set_ylim(*p['ylim'])

    # background grid: 1 mm / 1 % lines, stronger every 6 mm and every 5 %
    for gx in range(int(np.ceil(p['xlim'][0])), int(np.floor(p['xlim'][1])) + 1):
        strong = gx % 6 == 0
        ax.axvline(gx, color='#b4b4b4' if strong else '#e3e3e3', lw=0.9 if strong else 0.7, zorder=0)
    for gy in range(int(np.ceil(p['ylim'][0])), int(np.floor(p['ylim'][1])) + 1):
        strong = gy % 5 == 0
        ax.axhline(gy, color='#bcbcbc' if strong else '#e3e3e3', lw=0.9 if strong else 0.7, zorder=0)

    # the last scan sits on top and reads as a thicker outline
    for t, row in zip(TIMES, p['bs']):
        last = t == TIMES[-1]
        ax.plot(p['h'], row, color=cmap(t / 300), lw=1.3 if last else 0.8,
                alpha=0.95 if last else 0.75, zorder=2)

    ax.xaxis.set_major_locator(MultipleLocator(2))
    ax.xaxis.set_minor_locator(MultipleLocator(0.5))
    ax.yaxis.set_major_locator(MultipleLocator(5))
    ax.yaxis.set_minor_locator(MultipleLocator(0.5))
    ax.xaxis.set_major_formatter(FormatStrFormatter('%d'))
    ax.yaxis.set_major_formatter(FormatStrFormatter('%d'))
    ax.tick_params(which='major', direction='out', length=5, width=0.9, color='#505050',
                   labelsize=7, labelcolor='#4a4a4a', pad=2)
    ax.tick_params(which='minor', direction='out', length=2.5, width=0.7, color='#606060')
    for s in ax.spines.values():
        s.set_color('#6a6a6a')
        s.set_linewidth(1.2)

    fig.text(p['title_xy'][0] / W, 1 - p['title_xy'][1] / H, p['title'], ha='center', va='baseline',
             fontsize=20.5, fontweight='bold', family=['Liberation Serif', 'DejaVu Serif'])
    fig.text(p['ylab_xy'][0] / W, 1 - p['ylab_xy'][1] / H, 'ΔBS (%)', rotation=90, ha='center',
             va='center', fontsize=8.8, fontweight='bold', color='#222222')
    fig.text(p['xlab_xy'][0] / W, 1 - p['xlab_xy'][1] / H, 'Height (mm)', ha='center', va='center',
             fontsize=8.5, fontweight='bold', color='#222222')

    # time legend bar
    cax = fig.add_axes(px_box(*p['cbar']))
    lo, hi = p['cb_lim']
    grad = np.linspace(0, 300, 41)[:, None]
    cax.imshow(grad, aspect='auto', cmap=cmap, vmin=0, vmax=300, extent=(0, 1, lo, hi),
               interpolation='nearest')
    cax.set_ylim(lo, hi)
    cax.set_xticks([])
    cax.set_yticks(LABEL_MINUTES)
    cax.set_yticklabels(TIME_LABELS)
    cax.tick_params(axis='y', length=0, pad=5, labelsize=6.7, labelcolor='#3c3c3c')
    for s in cax.spines.values():
        s.set_visible(False)

fig.savefig('out.png', dpi=100)
